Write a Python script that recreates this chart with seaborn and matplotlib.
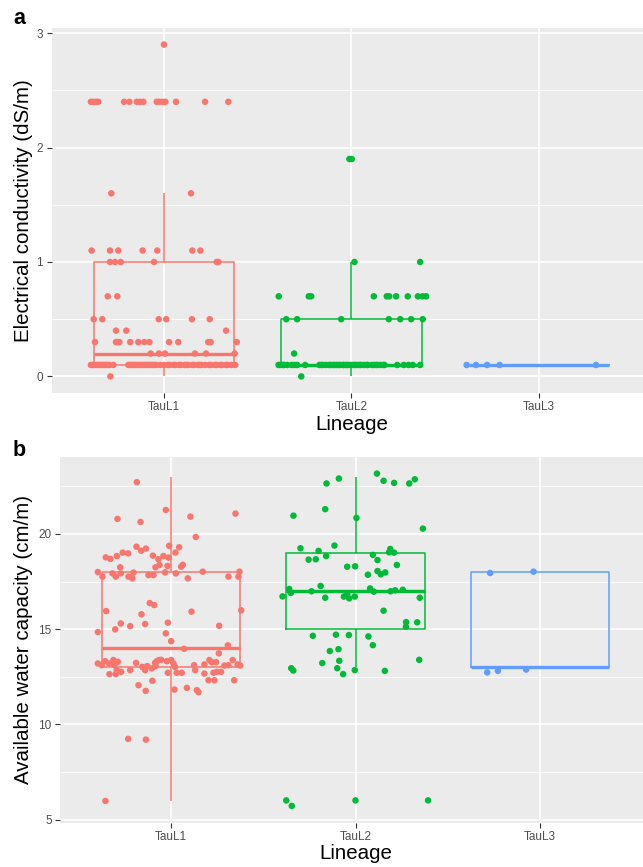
import numpy as np
import pandas as pd
import matplotlib
matplotlib.use("Agg")
import matplotlib.pyplot as plt
from matplotlib.ticker import MultipleLocator
import seaborn as sns

plt.rcParams['font.family'] = ['Liberation Sans', 'DejaVu Sans']

lineages = ["TauL1", "TauL2", "TauL3"]
colors = ["#F8766D", "#00BA38", "#619CFF"]

# ---------------- Panel a: electrical conductivity (dS/m) ----------------
ec_L1 = [2.9,
         2.4, 2.4, 2.4, 2.4, 2.4, 2.4, 2.4, 2.4, 2.4, 2.4, 2.4, 2.4, 2.4, 2.4, 2.4, 2.4,
         1.6, 1.6,
         1.1, 1.1, 1.1, 1.1, 1.1, 1.1, 1.1,
         1.0, 1.0, 1.0, 1.0, 1.0, 1.0,
         0.7, 0.7,
         0.5, 0.5, 0.5, 0.5, 0.5, 0.5,
         0.4, 0.4, 0.4,
         0.3, 0.3, 0.3, 0.3, 0.3, 0.3, 0.3, 0.3, 0.3, 0.3, 0.3, 0.3, 0.3,
         0.2, 0.2, 0.2, 0.2, 0.2, 0.2,
         0.1, 0.1, 0.1, 0.1, 0.1, 0.1, 0.1, 0.1, 0.1, 0.1, 0.1, 0.1,
         0.1, 0.1, 0.1, 0.1, 0.1, 0.1, 0.1, 0.1, 0.1, 0.1, 0.1, 0.1, 0.1, 0.1,
         0.1, 0.1, 0.1, 0.1, 0.1, 0.1, 0.1, 0.1, 0.1, 0.1, 0.1, 0.1, 0.1, 0.1,
         0.1, 0.1, 0.1, 0.1, 0.1, 0.1, 0.1, 0.1, 0.1, 0.1, 0.1, 0.1, 0.1, 0.1, 0.1,
         0.0]
ec_L1_jx = [0.00,
            -0.390, -0.378, -0.363, -0.351, -0.213, -0.185, -0.145, -0.128, -0.110, -0.039, -0.025, -0.007, 0.007, 0.064, 0.219, 0.343,
            -0.281, 0.144,
            -0.386, -0.288, -0.244, -0.114, -0.036, 0.151, 0.194,
            -0.288, -0.261, -0.231, -0.053, 0.281, 0.290,
            -0.300, -0.249,
            -0.375, -0.329, -0.028, 0.012, 0.149, 0.244,
            -0.256, -0.201, 0.331,
            -0.368, -0.256, -0.249, -0.238, -0.180, -0.137, -0.105, -0.078, 0.027, 0.076, 0.236, 0.249, 0.388,
            -0.071, -0.027, 0.005, 0.165, 0.224, 0.377,
            -0.39, -0.38, -0.37, -0.36, -0.35, -0.34, -0.33, -0.32, -0.31, -0.30, -0.29, -0.27,
            -0.19, -0.18, -0.17, -0.16, -0.15, -0.14, -0.13, -0.12, -0.11, -0.10, -0.09, -0.08, -0.07, -0.06,
            -0.05, -0.04, -0.02, 0.00, 0.02, 0.03, 0.05, 0.06, 0.08, 0.09, 0.11, 0.12, 0.13, 0.15,
            0.16, 0.18, 0.19, 0.20, 0.22, 0.24, 0.25, 0.27, 0.28, 0.30, 0.31, 0.33, 0.34, 0.36, 0.38,
            -0.286]

ec_L2 = [1.9, 1.9,
         1.0, 1.0,
         0.7, 0.7, 0.7, 0.7, 0.7, 0.7, 0.7, 0.7, 0.7, 0.7, 0.7,
         0.5, 0.5, 0.5, 0.5, 0.5, 0.5, 0.5,
         0.2,
         0.1, 0.1, 0.1, 0.1, 0.1, 0.1, 0.1, 0.1, 0.1, 0.1, 0.1, 0.1, 0.1, 0.1, 0.1,
         0.1, 0.1, 0.1, 0.1, 0.1, 0.1, 0.1, 0.1, 0.1, 0.1, 0.1, 0.1, 0.1, 0.1, 0.1,
         0.1, 0.1, 0.1, 0.1, 0.1, 0.1, 0.1, 0.1, 0.1, 0.1, 0.1, 0.1, 0.1, 0.1, 0.1,
         0.0]
ec_L2_jx = [-0.011, 0.001,
            0.016, 0.366,
            -0.388, -0.228, -0.215, 0.119, 0.188, 0.201, 0.238, 0.300, 0.354, 0.379, 0.398,
            -0.348, -0.290, -0.055, 0.199, 0.260, 0.318, 0.380,
            -0.306,
            -0.389, -0.366, -0.343, -0.304, -0.247, -0.171, -0.135, -0.112, -0.091, -0.069, -0.046, -0.028, -0.005, 0.020, 0.043,
            0.066, 0.087, 0.108, 0.132, 0.155, 0.176, 0.244, 0.279, 0.304, 0.327, 0.366, -0.38, -0.36, -0.32, -0.29,
            -0.16, -0.15, -0.12, -0.10, -0.08, -0.06, -0.04, -0.02, 0.01, 0.03, 0.05, 0.08, 0.12, 0.14, 0.17,
            -0.268]

ec_L3 = [0.1, 0.1, 0.1, 0.1, 0.1]
ec_L3_jx = [-0.386, -0.336, -0.277, -0.210, 0.304]

# ---------------- Panel b: available water capacity (cm/m) ----------------
awc_L1 = [23, 21, 21, 21, 21, 21, 20,
          19, 19, 19, 19, 19, 19, 19, 19, 19, 19, 19, 19, 19, 19, 19,
          18, 18, 18, 18, 18, 18, 18, 18, 18, 18, 18, 18, 18, 18, 18, 18, 18, 18, 18, 18, 18, 18, 18,
          16, 16, 16, 16, 16, 16,
          15, 15, 15, 15, 15, 15, 15, 15,
          14, 14, 14, 14,
          9, 9, 6,
          13, 13, 13, 13, 13, 13, 13, 13, 13, 13, 13, 13, 13, 12, 13, 13, 12, 13, 13, 12,
          13, 13, 13, 13, 13, 13, 13, 13, 13, 13, 12, 13, 13, 12, 13, 13, 12, 12, 13, 13,
          13, 13, 13, 12, 12, 13, 13, 13, 13, 13, 12, 13, 13, 13]
awc_L1_jy = [-0.28, 0.26, -0.21, -0.37, -0.09, 0.07, -0.16,
             0.33, 0.23, 0.12, 0.02, -0.02, -0.23, -0.31, -0.16, 0.38, 0.30, 0.02, -0.16, -0.14, -0.33, -0.24,
             0.38, 0.28, 0.32, 0.25, 0.37, 0.25, 0.00, -0.24, -0.07, -0.24, -0.07, -0.24, -0.33, -0.03, -0.16, -0.16,
             -0.02, -0.07, -0.33, 0.02, -0.24, -0.24, 0.02,
             -0.01, 0.37, 0.27, -0.22, -0.08, -0.05,
             0.34, 0.30, 0.16, 0.27, -0.01, -0.15, 0.18, -0.22,
             0.37, -0.03, 0.15, -0.27,
             0.24, 0.20, -0.02,
             0.20, 0.11, 0.32, 0.20, 0.38, 0.29, 0.11, -0.15, -0.36, -0.36, -0.24, -0.15, 0.23, 0.06, 0.02, -0.15, -0.24, 0.06, -0.06, 0.29,
             0.23, 0.32, 0.38, 0.39, 0.06, 0.32, 0.38, -0.29, 0.20, 0.02, -0.17, -0.29, -0.29, -0.08, 0.11, -0.15, -0.20, -0.31, 0.15, -0.33,
             0.38, 0.27, -0.29, 0.32, 0.32, 0.27, -0.24, -0.24, 0.09, 0.38, 0.32, 0.15, 0.09, 0.11]
awc_L1_jx = [-0.184, -0.027, -0.289, -0.164, 0.106, 0.350, 0.135,
             -0.186, -0.135, -0.161, -0.260, -0.231, -0.352, -0.327, -0.292, -0.009, 0.045, 0.025, -0.040, -0.097, -0.067, -0.013,
             0.065, 0.056, -0.018, -0.083, -0.061, -0.274, -0.395, -0.370, -0.316, -0.298, -0.271, -0.229, -0.208, -0.202, -0.121, -0.094,
             -0.031, 0.027, 0.092, 0.173, 0.312, 0.366, 0.372,
             0.381, -0.114, -0.090, -0.159, 0.112, -0.350,
             -0.016, -0.271, -0.220, -0.139, -0.301, -0.395, 0.262, -0.027,
             0.002, 0.072, 0.309, 0.260,
             -0.231, -0.135, -0.354,
             -0.395, -0.374, -0.356, -0.334, -0.311, -0.287, -0.305, -0.293, -0.332, -0.298, -0.269, -0.220, -0.188, -0.175, -0.154, -0.139, -0.136, -0.127, -0.103, -0.100,
             -0.085, -0.076, -0.063, -0.052, -0.082, -0.022, 0.002, -0.016, 0.014, 0.023, 0.020, 0.032, 0.059, 0.087, 0.126, 0.132, 0.141, 0.150, 0.182, 0.182,
             0.209, 0.222, 0.231, 0.204, 0.236, 0.245, 0.249, 0.272, 0.290, 0.335, 0.343, 0.362, 0.375, 0.312]

awc_L2 = [23, 23, 23, 23, 23, 23, 23, 21, 21, 21, 20,
          19, 19, 19, 19, 19, 19, 18, 18, 19, 19, 19, 19, 19, 18, 18, 18, 18, 18,
          17, 17, 17, 17, 17, 17, 17, 17, 17, 17, 17, 17, 17, 17, 17, 17,
          16, 15, 15, 15,
          15, 15, 15, 15, 14, 14, 14, 13, 13, 13, 13, 13, 13, 13, 13, 13,
          6, 6, 6, 6]
awc_L2_jy = [0.17, -0.09, -0.35, -0.21, -0.32, -0.35, -0.13, 0.30, -0.04, -0.16, 0.28,
             0.25, 0.11, 0.39, -0.16, -0.35, -0.33, 0.28, 0.30, -0.10, -0.37, 0.21, 0.04, 0.02, 0.37, -0.14, 0.05, -0.12, -0.02,
             0.11, -0.10, -0.28, -0.01, 0.27, -0.35, -0.29, -0.17, -0.38, -0.29, 0.14, -0.03, -0.01, 0.04, 0.07, -0.35,
             -0.03, 0.37, 0.13, 0.36,
             -0.35, -0.29, -0.31, -0.38, 0.16, -0.15, -0.05, 0.22, 0.34, 0.39, -0.05, -0.17, -0.05, -0.36, -0.15, -0.19,
             0.01, -0.28, 0.01, 0.01]
awc_L2_jx = [0.116, -0.090, -0.157, 0.152, 0.209, 0.291, 0.321, -0.164, -0.336, 0.005, 0.365,
             -0.298, -0.200, -0.114, -0.159, -0.254, -0.215, -0.045, -0.002, 0.094, 0.119, 0.188, 0.182, 0.209, 0.224, 0.067, 0.119, 0.137, 0.161,
             -0.359, -0.350, -0.395, -0.238, -0.189, -0.164, -0.063, -0.045, -0.034, -0.004, 0.079, 0.099, 0.190, 0.215, 0.256, 0.348,
             0.152, 0.274, 0.273, 0.334,
             -0.231, -0.106, -0.036, 0.070, 0.094, -0.139, -0.092, -0.180, -0.088, 0.345, -0.348, -0.337, -0.099, -0.067, -0.004, 0.159,
             -0.375, -0.345, 0.000, 0.393]

awc_L3 = [18, 18, 13, 13, 13]
awc_L3_jy = [-0.05, 0.02, -0.27, -0.19, -0.12]
awc_L3_jx = [-0.271, -0.036, -0.287, -0.229, -0.076]


def build(groups):
    frames = []
    for code, (name, vals, jx, jy) in enumerate(groups):
        jy = jy if jy is not None else [0.0] * len(vals)
        frames.append(pd.DataFrame({
            "lineage": name, "value": vals,
            "xpos": np.asarray(jx) + code,
            "ypos": np.asarray(vals, dtype=float) + np.asarray(jy)}))
    return pd.concat(frames, ignore_index=True)


df_a = build([("TauL1", ec_L1, ec_L1_jx, None),
              ("TauL2", ec_L2, ec_L2_jx, None),
              ("TauL3", ec_L3, ec_L3_jx, None)])
df_b = build([("TauL1", awc_L1, awc_L1_jx, awc_L1_jy),
              ("TauL2", awc_L2, awc_L2_jx, awc_L2_jy),
              ("TauL3", awc_L3, awc_L3_jx, awc_L3_jy)])

W, H = 643, 867
fig = plt.figure(figsize=(W / 100, H / 100), dpi=100)
ax_a = fig.add_axes([51.5 / W, (H - 393) / H, 600 / W, 365 / H])
ax_b = fig.add_axes([60 / W, (H - 822.5) / H, 591 / W, 365.5 / H])


def draw(ax, df, ylabel, ylim, yticks, minor, ylab_x):
    sns.boxplot(data=df, x="lineage", y="value", hue="lineage", order=lineages,
                hue_order=lineages, palette=colors, fill=False, width=0.75,
                showfliers=False, showcaps=False, linewidth=1.1, legend=False,
                medianprops=dict(linewidth=2.4), ax=ax, zorder=2)
    for p in ax.patches:
        p.set_facecolor("white")
    sns.scatterplot(data=df, x="xpos", y="ypos", hue="lineage", hue_order=lineages,
                    palette=colors, s=22, linewidth=0, alpha=1, legend=False,
                    ax=ax, zorder=3)
    ax.set_facecolor("#EBEBEB")
    for s in ax.spines.values():
        s.set_visible(False)
    ax.set_xlim(-0.6, 2.6)
    ax.set_ylim(*ylim)
    ax.set_xticks([0, 1, 2])
    ax.set_xticklabels(lineages)
    ax.set_yticks(yticks)
    ax.set_yticklabels([str(t) for t in yticks])
    ax.yaxis.set_minor_locator(MultipleLocator(minor))
    ax.set_axisbelow(True)
    ax.grid(True, which="major", color="white", linewidth=1.2)
    ax.grid(True, which="minor", axis="y", color="white", linewidth=0.6)
    ax.tick_params(which="major", length=3.5, width=0.8, color="#333333",
                   labelsize=8.5, labelcolor="#4D4D4D", pad=2.5)
    ax.tick_params(which="minor", length=0)
    ax.set_xlabel("Lineage", fontsize=14.8, labelpad=1, color="black")
    ax.set_ylabel(ylabel, fontsize=14.8, color="black")
    ax.yaxis.set_label_coords(ylab_x, 0.5)


draw(ax_a, df_a, "Electrical conductivity (dS/m)", (-0.145, 3.045), [0, 1, 2, 3], 0.5,
     -0.031)
draw(ax_b, df_b, "Available water capacity (cm/m)", (4.85, 24.04), [5, 10, 15, 20], 2.5,
     -0.046)

fig.text(13 / W, 1 - 24 / H, "a", fontsize=15.5, fontweight="bold", va="baseline")
fig.text(13 / W, 1 - 456 / H, "b", fontsize=15.5, fontweight="bold", va="baseline")

fig.savefig("out.png", dpi=100)
